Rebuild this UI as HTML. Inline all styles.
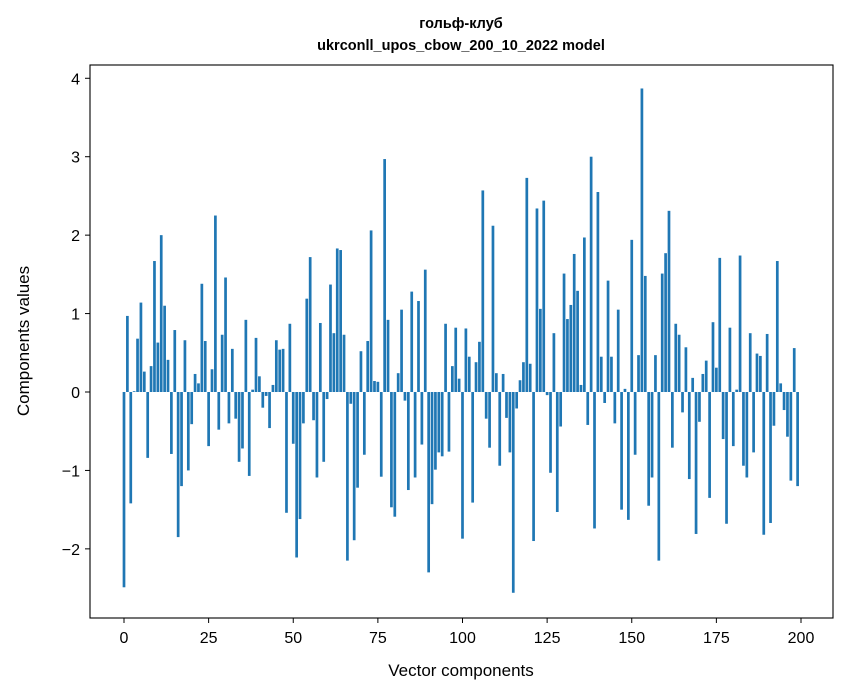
<!DOCTYPE html>
<html><head><meta charset="utf-8"><style>
body{margin:0;background:#fff;}
svg{display:block;font-family:"Liberation Sans","DejaVu Sans",sans-serif;}
</style></head><body>
<svg width="847" height="696" viewBox="0 0 847 696">
<rect x="0" y="0" width="847" height="696" fill="#fff"/>
<text x="461" y="28" text-anchor="middle" font-size="14.5" font-weight="bold">гольф-клуб</text>
<text x="461" y="50" text-anchor="middle" font-size="14.5" font-weight="bold">ukrconll_upos_cbow_200_10_2022 model</text>
<g id="bars"></g>
<rect x="90" y="65" width="743" height="553" fill="none" stroke="#000" stroke-width="1.1"/>
<g id="xticks"></g>
<g id="yticks"></g>
<text x="461" y="676" text-anchor="middle" font-size="17">Vector components</text>
<text transform="translate(29,341) rotate(-90)" text-anchor="middle" font-size="17">Components values</text>
</svg>
<script>
const values = [
-2.49,0.97,-1.42,0.01,0.68,1.14,0.26,-0.84,0.33,1.67,
0.63,2.0,1.1,0.41,-0.79,0.79,-1.85,-1.2,0.66,-1.0,
-0.41,0.23,0.11,1.38,0.65,-0.69,0.29,2.25,-0.48,0.73,
1.46,-0.4,0.55,-0.34,-0.89,-0.72,0.92,-1.07,0.03,0.69,
0.2,-0.2,-0.05,-0.46,0.09,0.66,0.54,0.55,-1.54,0.87,
-0.66,-2.11,-1.62,-0.4,1.19,1.72,-0.36,-1.09,0.88,-0.89,
-0.09,1.37,0.75,1.83,1.81,0.73,-2.15,-0.15,-1.89,-1.22,
0.52,-0.8,0.65,2.06,0.14,0.13,-1.08,2.97,0.92,-1.47,
-1.59,0.24,1.05,-0.11,-1.25,1.28,-1.09,1.16,-0.67,1.56,
-2.3,-1.43,-0.99,-0.77,-0.82,0.87,-0.76,0.33,0.82,0.17,
-1.87,0.81,0.45,-1.41,0.38,0.64,2.57,-0.34,-0.71,2.12,
0.24,-0.94,0.23,-0.33,-0.77,-2.56,-0.21,0.15,0.38,2.73,
0.36,-1.9,2.34,1.06,2.44,-0.04,-1.03,0.75,-1.53,-0.44,
1.51,0.93,1.11,1.76,1.29,0.09,1.97,-0.42,3.0,-1.74,
2.55,0.45,-0.14,1.42,0.45,-0.4,1.05,-1.5,0.04,-1.63,
1.94,-0.8,0.47,3.87,1.48,-1.45,-1.09,0.47,-2.15,1.51,
1.77,2.31,-0.71,0.87,0.73,-0.26,0.57,-1.11,0.18,-1.81,
-0.38,0.23,0.40,-1.35,0.89,0.31,1.71,-0.6,-1.68,0.82,
-0.69,0.03,1.74,-0.94,-1.09,0.75,-0.77,0.49,0.46,-1.82,
0.74,-1.67,-0.43,1.67,0.11,-0.23,-0.57,-1.13,0.56,-1.2];
const xTicks = [0,25,50,75,100,125,150,175,200];
const yTicks = [-2,-1,0,1,2,3,4];
const NS="http://www.w3.org/2000/svg";
function xs(v){return 124 + v*(801-124)/200;}
function ys(v){return 392 - v*78.43;}
const bw = 0.8*(801-124)/200;
const gb=document.getElementById('bars');
values.forEach((v,i)=>{
  const r=document.createElementNS(NS,'rect');
  const y0=ys(0), y1=ys(v);
  r.setAttribute('x',xs(i)-bw/2);
  r.setAttribute('y',Math.min(y0,y1));
  r.setAttribute('width',bw);
  r.setAttribute('height',Math.max(Math.abs(y1-y0),0.3));
  r.setAttribute('fill','#1f77b4');
  
  
  gb.appendChild(r);
});
const gx=document.getElementById('xticks');
xTicks.forEach(t=>{
  const l=document.createElementNS(NS,'line');
  l.setAttribute('x1',xs(t));l.setAttribute('x2',xs(t));
  l.setAttribute('y1',618);l.setAttribute('y2',623);
  l.setAttribute('stroke','#000');
  
  
  gx.appendChild(l);
  const tx=document.createElementNS(NS,'text');
  tx.setAttribute('x',xs(t));tx.setAttribute('y',643);
  tx.setAttribute('text-anchor','middle');tx.setAttribute('font-size','16');
  tx.textContent=t;
  
  
  gx.appendChild(tx);
});
const gy=document.getElementById('yticks');
yTicks.forEach(t=>{
  const l=document.createElementNS(NS,'line');
  l.setAttribute('x1',85);l.setAttribute('x2',90);
  l.setAttribute('y1',ys(t));l.setAttribute('y2',ys(t));
  l.setAttribute('stroke','#000');
  
  
  gy.appendChild(l);
  const tx=document.createElementNS(NS,'text');
  tx.setAttribute('x',80);tx.setAttribute('y',ys(t)+6);
  tx.setAttribute('text-anchor','end');tx.setAttribute('font-size','16');
  tx.textContent=t<0?'\u2212'+Math.abs(t):t;
  
  
  gy.appendChild(tx);
});
</script>
</body></html>
